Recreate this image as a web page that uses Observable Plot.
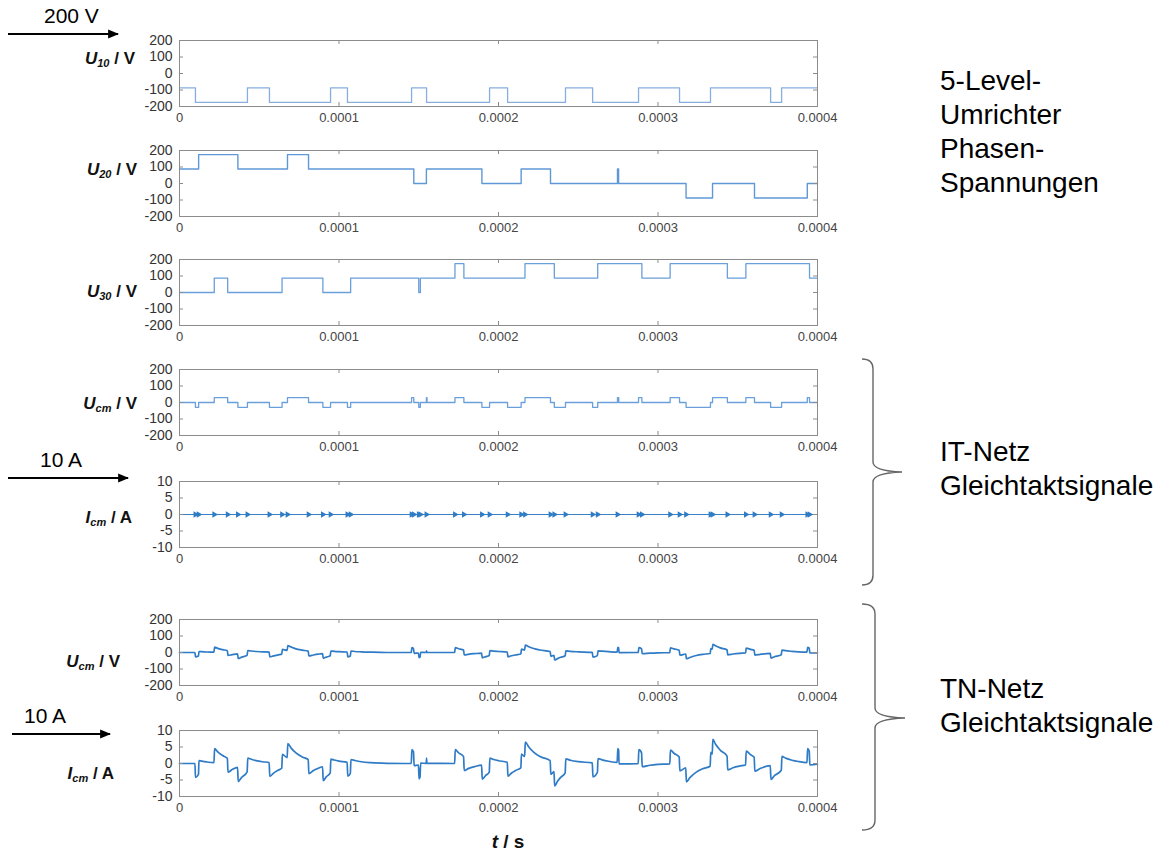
<!DOCTYPE html>
<html><head><meta charset="utf-8">
<script src="https://cdn.jsdelivr.net/npm/d3@7"></script>
<script src="https://cdn.jsdelivr.net/npm/@observablehq/plot@0.6"></script>
<style>
body{margin:0;background:#fff;}
#page{position:relative;width:1168px;height:852px;overflow:hidden;font-family:"Liberation Sans",Arial,sans-serif;background:#fff;}
.ylab{position:absolute;font-weight:bold;font-size:17px;line-height:22px;height:22px;white-space:nowrap;color:#111;text-align:right;}
.ylab i{font-style:italic}
.ylab sub{font-size:11px;vertical-align:-3px;font-style:italic;}
.note{position:absolute;font-size:28px;line-height:34px;color:#000;white-space:nowrap;}
.arrtxt{position:absolute;font-size:21px;line-height:24px;color:#000;white-space:nowrap;}
</style></head>
<body><div id="page"></div>
<script>
// ---------- axis ticks ----------
const xTicks = [0, 0.0001, 0.0002, 0.0003, 0.0004];
const xTickLabels = ["0", "0.0001", "0.0002", "0.0003", "0.0004"];
const voltTicks = [-200, -100, 0, 100, 200];
const voltTickLabels = ["-200", "-100", "0", "100", "200"];
const ampTicks = [-10, -5, 0, 5, 10];
const ampTickLabels = ["-10", "-5", "0", "5", "10"];

// ---------- phase voltages: [time in µs, volts] (step after) ----------
const u10 = [[0,-87.5],[10,-175],[42.6,-87.5],[56.4,-175],[94.7,-87.5],[105.3,-175],[145.5,-87.5],[154.9,-175],
  [194.4,-87.5],[205.7,-175],[242,-87.5],[259,-175],[287.8,-87.5],[313.5,-175],[332.9,-87.5],[370.6,-175],[377.5,-87.5],[400,-87.5]];
const u20 = [[0,87.5],[12,175],[36.6,87.5],[67.7,175],[80.9,87.5],[146.9,0],[154.8,87.5],[189.6,0],[214.2,87.5],[232.6,0],
  [274.6,87.5],[275.3,0],[317.6,-87.5],[334.2,0],[360.5,-87.5],[393.6,0],[400,0]];
const u30 = [[0,0],[21.8,87.5],[30.2,0],[64.3,87.5],[89.9,0],[107.3,87.5],[150,0],[151,87.5],[172.7,175],[178.3,87.5],
  [216.6,175],[235,87.5],[262.2,175],[289.9,87.5],[307.6,175],[343.5,87.5],[355.1,175],[395,87.5],[400,87.5]];

// ---------- IT network common mode voltage: [µs, V] (step after) ----------
const ucmIT = [[0,0],[10,-29.2],[12,0],[21.8,29.2],[30.2,0],[36.6,-29.2],[42.6,0],[56.4,-29.2],[64.3,0],[67.7,29.2],[80.9,0],
  [89.9,-29.2],[94.7,0],[105.3,-29.2],[107.3,0],[145.5,29.2],[146.9,0],[150,-29.2],[151,0],[154.8,29.2],[155.2,0],[172.7,29.2],
  [178.3,0],[189.6,-29.2],[194.4,0],[205.7,-29.2],[214.2,0],[216.6,29.2],[232.6,0],[235,-29.2],[242,0],[259,-29.2],[262.2,0],
  [274.6,29.2],[275.4,0],[287.8,29.2],[289.9,0],[307.6,29.2],[313.5,0],[317.6,-29.2],[332.9,0],[334.2,29.2],[343.5,0],
  [355.1,29.2],[360.5,0],[370.6,-29.2],[377.5,0],[393.6,29.2],[395,0],[400,0]];

// ---------- IT network common mode current: base line and spike times (µs) ----------
const icmITBase = [[0,0],[400,0]];
const icmITSpikes = [10,12,21.8,30.2,36.6,42.6,56.4,64.3,67.7,80.9,89.9,94.7,105.3,107.3,145.5,146.9,150,151,154.8,
  172.7,178.3,189.6,194.4,205.7,214.2,216.6,232.6,235,242,259,262.2,274.6,287.8,289.9,307.6,313.5,317.6,332.9,334.2,
  343.5,355.1,360.5,370.6,377.5,393.6,395];

// ---------- TN network common mode signals ----------
const tnTime = [0,9.7,10.0,11.9,12.2,14,17,21.6,22.0,24,27,30.0,30.4,33,36.4,36.8,39,42.4,42.8,45,48,52,56.2,56.6,59,62,64.1,
  64.5,67.5,67.9,70,73,77,80.7,81.1,84,87,89.7,90.1,92,94.5,94.9,97,100,105.1,105.5,107.1,107.5,110,114,120,130,145.3,
  145.7,146.7,147.1,149.8,150.2,150.8,151.2,154.7,154.9,155.1,172.5,172.9,175,178.1,178.5,181,185,189.4,189.8,192,194.2,
  194.6,197,200,205.5,205.9,208,211,214.0,214.4,216.4,216.8,219,222,226,232.4,232.8,234.8,235.2,237,239,241.8,242.2,245,
  250,258.8,259.2,262.0,262.4,265,269,274.4,274.8,275.3,275.6,287.6,288.0,289.7,290.1,295,300,307.4,307.8,310,313.3,313.7,
  317.4,317.8,320,324,328,332.7,333.1,334.0,334.4,336,339,343.3,343.7,347,351,354.9,355.3,358,360.3,360.7,364,370.4,370.8,
  373,377.3,377.7,380,384,388,393.4,393.8,394.8,395.2,400];
const tnIcm = [0,0,-4.2,-3.3,0.9,0.72,0.48,0.27,4.5,3.5,2.4,1.56,-2.64,-1.85,-1.19,-5.4,-4.2,-2.54,1.66,1.29,0.89,0.54,0.30,
  -3.9,-2.9,-2.0,-1.45,2.75,1.8,6.0,4.67,3.2,1.95,1.15,-3.05,-2.1,-1.45,-0.99,-5.2,-4.04,-2.85,1.35,1.05,0.72,0.36,-3.84,
  -3.0,1.21,0.9,0.52,0.24,0.06,0,4.2,3.52,-0.68,-0.46,-4.66,-4.11,0.09,0.06,1.6,0.05,0,4.2,3.25,2.09,-2.11,-1.55,-0.95,
  -0.51,-4.71,-3.6,-2.59,1.61,1.2,0.84,0.39,-3.81,-2.95,-2.03,-1.32,2.88,2.13,6.5,5.0,3.45,2.1,0.88,-3.32,-2.47,-6.8,
  -5.4,-4.2,-2.83,1.4,1.0,0.55,0.17,-4.03,-2.7,1.5,1.1,0.67,0.32,4.5,4.1,-0.11,-0.02,4.18,3.21,-0.99,-0.53,-0.28,-0.11,
  4.09,3.1,1.96,-2.24,-1.34,-5.54,-4.3,-2.62,-1.6,-0.82,3.38,2.87,7.3,5.9,4.05,2.25,-1.95,-1.28,-0.78,-0.46,3.74,2.67,
  1.9,-2.3,-1.53,-0.65,-4.85,-3.7,-2.05,2.15,1.62,0.99,0.6,0.29,4.49,3.77,-0.43,-0.23];
const tnUcm = [0,0,-26,-21,6,5,3,2,32,25,17,11,-18,-13,-8,-36,-28,-17,12,9,6,4,2,-26,-20,-14,-10,19,13,42,33,22,14,8,-21,
  -15,-10,-7,-35,-28,-20,9,7,5,3,-26,-21,9,6,4,2,0,0,29,24,-5,-3,-31,-28,1,0,10,0,0,29,23,15,-15,-11,-7,-4,-32,-25,-18,
  11,8,6,3,-26,-20,-14,-9,20,15,45,35,24,15,6,-23,-17,-45,-37,-29,-20,10,7,4,1,-28,-19,10,8,5,2,31,28,-1,0,29,22,-7,-4,
  -2,-1,28,22,14,-16,-9,-38,-30,-18,-11,-6,23,20,50,41,28,16,-14,-9,-5,-3,26,19,13,-16,-11,-5,-34,-26,-14,15,11,7,4,2,
  31,26,-3,-2];

// ---------- layout constants ----------
const FW = 638, FH = 66, ML = 62, MR = 36, MT = 6, MB = 26, FRAME_LEFT = 179;
const page = document.getElementById("page");
const tS = d => d * 1e-6;

function makePanel({top, yDomain, yTicks, yTickLabels, marks}) {
  const fmtY = d => { const i = yTicks.indexOf(d); return i >= 0 ? yTickLabels[i] : ""; };
  const fmtX = d => { const i = xTicks.findIndex(v => Math.abs(v - d) < 1e-12); return i >= 0 ? xTickLabels[i] : ""; };
  const grey = "#8c8c8c";
  const plot = Plot.plot({
    width: FW + ML + MR, height: FH + MT + MB,
    marginLeft: ML, marginRight: MR, marginTop: MT, marginBottom: MB,
    style: {background: "transparent", fontFamily: "Liberation Sans, Arial, sans-serif", overflow: "visible"},
    x: {domain: [0, 0.0004]},
    y: {domain: yDomain},
    marks: [
      ...marks,
      Plot.frame({stroke: grey, strokeWidth: 1}),
      Plot.tickX(xTicks, {x: d => d, insetTop: FH - 4, stroke: grey}),
      Plot.tickX(xTicks, {x: d => d, insetBottom: FH - 4, stroke: grey}),
      Plot.tickY(yTicks, {y: d => d, insetLeft: FW - 4, stroke: grey}),
      Plot.tickY(yTicks, {y: d => d, insetRight: FW - 4, stroke: grey}),
      Plot.axisX({ticks: xTicks, tickFormat: fmtX, tickSize: 0, tickPadding: 6, label: null, fontSize: 13, fill: "#444"}),
      Plot.axisY({ticks: yTicks, tickFormat: fmtY, tickSize: 0, tickPadding: 7, label: null, fontSize: 14, fill: "#333"})
    ]
  });
  plot.style.position = "absolute";
  plot.style.left = (FRAME_LEFT - ML) + "px";
  plot.style.top = (top - MT) + "px";
  page.appendChild(plot);
}

const stepLine = (data, stroke, w) => Plot.line(data, {x: d => tS(d[0]), y: d => d[1], curve: "step-after", stroke, strokeWidth: w});
const tnRows = tnTime.map((t, i) => ({t, icm: tnIcm[i], ucm: tnUcm[i]}));

makePanel({top: 40, yDomain: [-200, 200], yTicks: voltTicks, yTickLabels: voltTickLabels, marks: [stepLine(u10, "#86aee0", 1.3)]});
makePanel({top: 150, yDomain: [-200, 200], yTicks: voltTicks, yTickLabels: voltTickLabels, marks: [stepLine(u20, "#5f98d6", 1.4)]});
makePanel({top: 259, yDomain: [-200, 200], yTicks: voltTicks, yTickLabels: voltTickLabels, marks: [stepLine(u30, "#6a9fd9", 1.3)]});
makePanel({top: 369, yDomain: [-200, 200], yTicks: voltTicks, yTickLabels: voltTickLabels, marks: [stepLine(ucmIT, "#6a9fd9", 1.3)]});
makePanel({top: 481, yDomain: [-10, 10], yTicks: ampTicks, yTickLabels: ampTickLabels, marks: [
  Plot.line(icmITBase, {x: d => tS(d[0]), y: d => d[1], stroke: "#3a80c8", strokeWidth: 1}),
  Plot.dot(icmITSpikes, {x: d => tS(d), y: () => 0, symbol: "triangle", r: 2.4, rotate: 90, fill: "#2f7cc4", stroke: "none"})
]});
makePanel({top: 619, yDomain: [-200, 200], yTicks: voltTicks, yTickLabels: voltTickLabels, marks: [
  Plot.line(tnRows, {x: d => tS(d.t), y: "ucm", curve: "monotone-x", stroke: "#2f7bc6", strokeWidth: 1.7})
]});
makePanel({top: 730, yDomain: [-10, 10], yTicks: ampTicks, yTickLabels: ampTickLabels, marks: [
  Plot.line(tnRows, {x: d => tS(d.t), y: "icm", curve: "monotone-x", stroke: "#2f7bc6", strokeWidth: 1.7})
]});

// ---------- labels ----------
function ylab(html, right, cy) {
  const el = document.createElement("div");
  el.className = "ylab";
  el.innerHTML = html;
  el.style.right = (1168 - right) + "px";
  el.style.top = (cy - 11) + "px";
  page.appendChild(el);
}
ylab("<i>U</i><sub>10</sub> / V", 135, 59);
ylab("<i>U</i><sub>20</sub> / V", 137, 170);
ylab("<i>U</i><sub>30</sub> / V", 137, 292);
ylab("<i>U</i><sub>cm</sub> / V", 137, 404);
ylab("<i>I</i><sub>cm</sub> / A", 132, 518);
ylab("<i>U</i><sub>cm</sub> / V", 120, 662);
ylab("<i>I</i><sub>cm</sub> / A", 114, 774);

const tl = document.createElement("div");
tl.className = "ylab";
tl.style.cssText = "left:0;width:1016px;text-align:center;top:831px;font-size:19px;line-height:22px;height:22px;";
tl.innerHTML = "<i>t</i> / s";
page.appendChild(tl);

function note(text, left, top, cls = "note") {
  const el = document.createElement("div");
  el.className = cls;
  el.innerHTML = text;
  el.style.left = left + "px";
  el.style.top = top + "px";
  page.appendChild(el);
}
note("5-Level-<br>Umrichter<br>Phasen-<br>Spannungen", 940, 64);
note("IT-Netz<br>Gleichtaktsignale", 940, 435);
note("TN-Netz<br>Gleichtaktsignale", 940, 672);
note("200 V", 44, 4, "arrtxt");
note("10 A", 40, 448, "arrtxt");
note("10 A", 24, 704, "arrtxt");

// ---------- arrows and braces ----------
const svg = d3.select(page).append("svg")
  .attr("width", 1168).attr("height", 852)
  .style("position", "absolute").style("left", 0).style("top", 0).style("pointer-events", "none");
svg.append("defs").append("marker")
  .attr("id", "ah").attr("viewBox", "0 0 10 10").attr("refX", 9).attr("refY", 5)
  .attr("markerWidth", 5).attr("markerHeight", 5).attr("orient", "auto")
  .append("path").attr("d", "M0,1 L10,5 L0,9 Z").attr("fill", "#000");
[[8, 118, 34], [8, 128, 478], [12, 110, 734]].forEach(([x1, x2, y]) => {
  svg.append("line").attr("x1", x1).attr("x2", x2).attr("y1", y).attr("y2", y)
    .attr("stroke", "#000").attr("stroke-width", 2.2).attr("marker-end", "url(#ah)");
});
function brace(x0, xv, xt, y0, ym, y1) {
  return `M${x0},${y0} Q${xv},${y0} ${xv},${y0 + 10} L${xv},${ym - 10} Q${xv},${ym - 1} ${xt},${ym} ` +
         `Q${xv},${ym + 1} ${xv},${ym + 10} L${xv},${y1 - 10} Q${xv},${y1} ${x0},${y1}`;
}
svg.append("path").attr("d", brace(862, 873, 902, 359, 472, 585)).attr("fill", "none").attr("stroke", "#666").attr("stroke-width", 1.4);
svg.append("path").attr("d", brace(862, 875, 905, 604, 718, 830)).attr("fill", "none").attr("stroke", "#666").attr("stroke-width", 1.4);
</script></body></html>
